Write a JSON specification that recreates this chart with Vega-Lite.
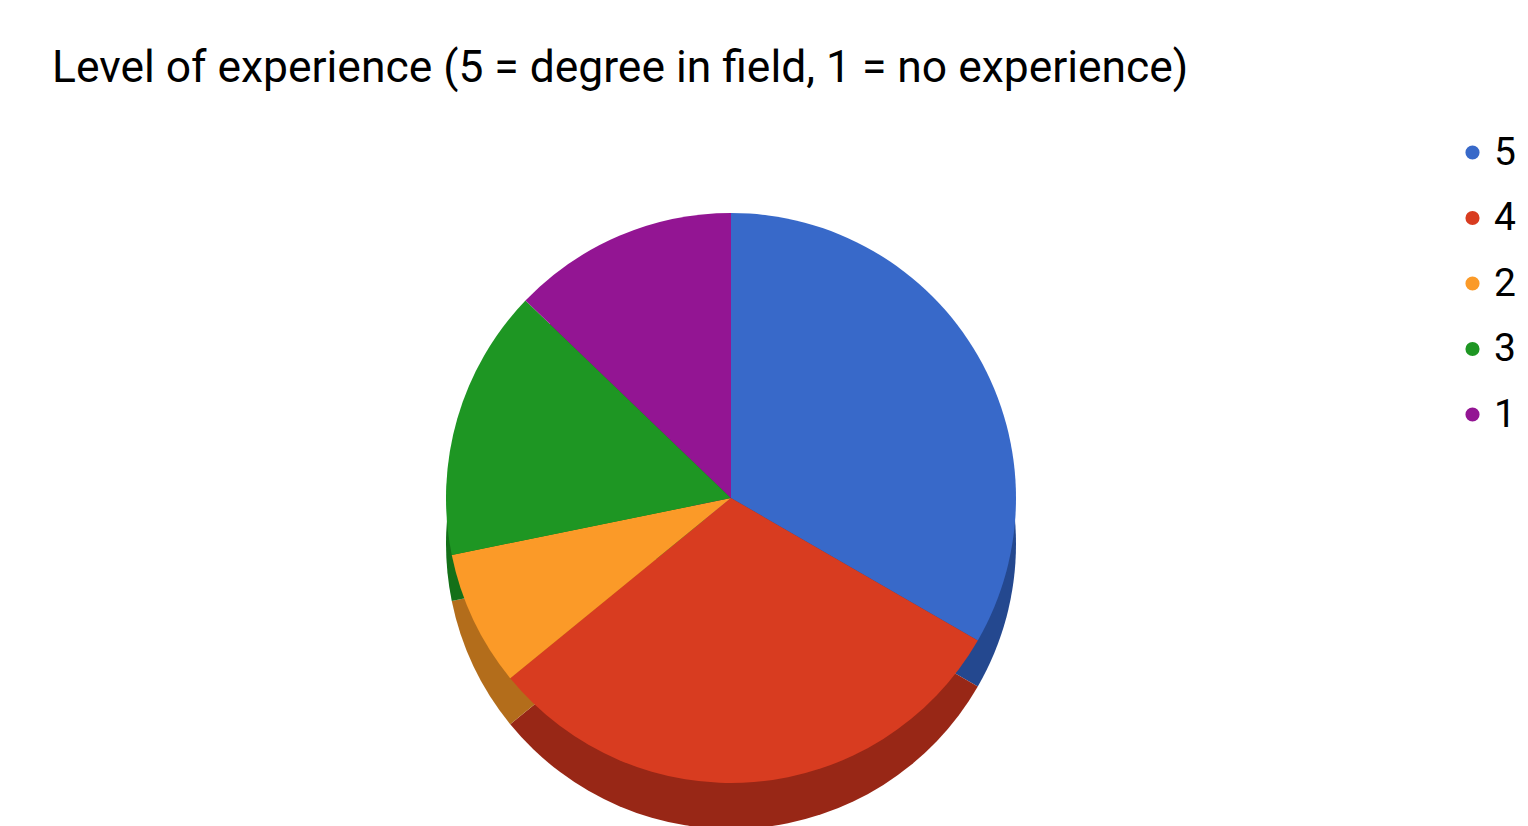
{
  "$schema": "https://vega.github.io/schema/vega-lite/v6.json",
  "autosize": {"type": "none"},
  "width": 1462,
  "height": 706,
  "padding": {"left": 0, "top": 120, "right": 66, "bottom": 0},
  "background": "white",
  "title": {
    "text": "Level of experience (5 = degree in field, 1 = no experience)",
    "anchor": "start",
    "frame": "group",
    "dx": 52,
    "dy": 43,
    "offset": 37,
    "baseline": "alphabetic",
    "font": "Roboto",
    "fontSize": 44.4,
    "fontWeight": "normal",
    "color": "#000000"
  },
  "data": {
    "values": [
      {"level": "5", "count": 13, "ord": 1},
      {"level": "4", "count": 12, "ord": 2},
      {"level": "2", "count": 3, "ord": 3},
      {"level": "3", "count": 6, "ord": 4},
      {"level": "1", "count": 5, "ord": 5}
    ]
  },
  "layer": [
    {
      "mark": {"type": "arc", "outerRadius": 285, "yOffset": 71, "stroke": null},
      "encoding": {
        "theta": {"field": "count", "type": "quantitative", "stack": true},
        "order": {"field": "ord", "type": "quantitative"},
        "color": {
          "field": "level",
          "type": "nominal",
          "scale": {"domain": ["5", "4", "2", "3", "1"], "range": ["#24488f", "#982716", "#b36d1b", "#137018", "#6b0e6b"]},
          "legend": null
        }
      }
    },
    {
      "mark": {"type": "arc", "outerRadius": 285, "yOffset": 25, "stroke": null},
      "encoding": {
        "theta": {"field": "count", "type": "quantitative", "stack": true},
        "order": {"field": "ord", "type": "quantitative"},
        "color": {
          "field": "level",
          "type": "nominal",
          "scale": {"domain": ["5", "4", "2", "3", "1"], "range": ["#3869c9", "#d83c20", "#fb9a28", "#1e9623", "#931593"]},
          "legend": {
            "title": null,
            "orient": "none",
            "legendX": 1453,
            "legendY": 13,
            "symbolType": "circle",
            "symbolSize": 200,
            "symbolStrokeWidth": 0,
            "labelFont": "Roboto",
            "labelFontSize": 39,
            "labelColor": "#000000",
            "labelOffset": 2,
            "rowPadding": 25.5,
            "labelLimit": 200
          }
        }
      }
    }
  ],
  "resolve": {"scale": {"color": "independent"}},
  "config": {"view": {"stroke": null}}
}
